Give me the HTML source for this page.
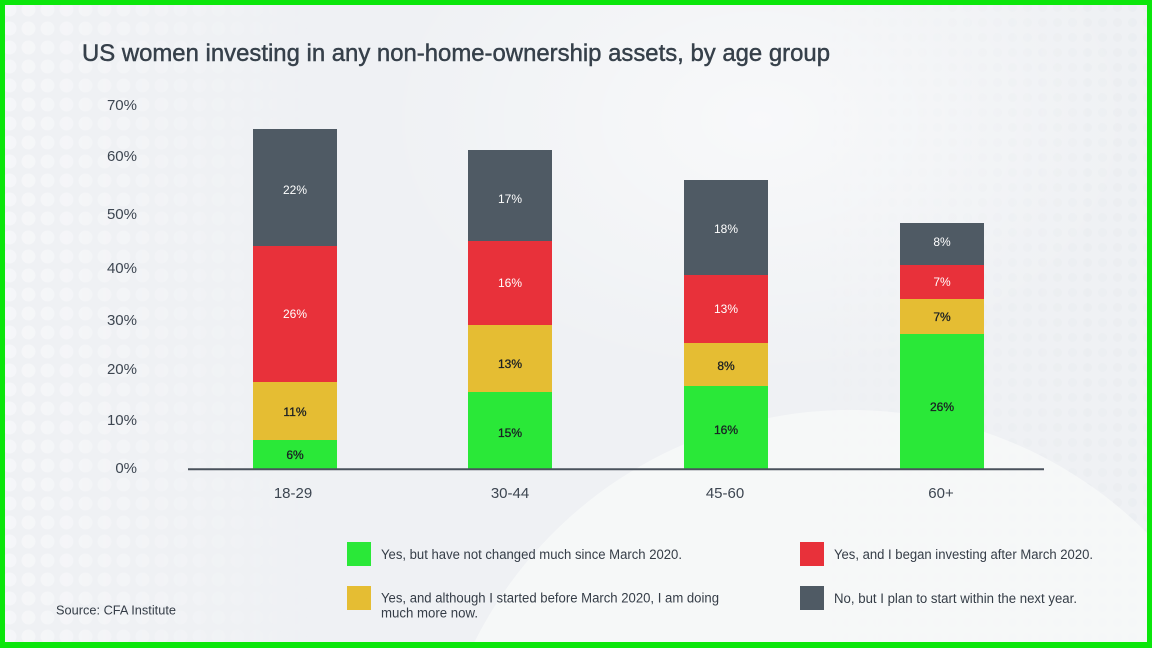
<!DOCTYPE html>
<html>
<head>
<meta charset="utf-8">
<style>
  html,body{margin:0;padding:0;background:#f1f3f5;width:1152px;height:648px;overflow:hidden;}
  svg{display:block;}
  text{font-family:"Liberation Sans",Arial,sans-serif;}
</style>
</head>
<body>
<svg width="1152" height="648" viewBox="0 0 1152 648" xmlns="http://www.w3.org/2000/svg">
  <defs>
    <pattern id="dotsL" x="0" y="0" width="19" height="19" patternUnits="userSpaceOnUse">
      <circle cx="9.5" cy="9.5" r="7" fill="#f6f7f9"/>
    </pattern>
    <pattern id="dotsR" x="0" y="0" width="15" height="15" patternUnits="userSpaceOnUse">
      <circle cx="7.5" cy="7.5" r="4.5" fill="#eaedf0"/>
    </pattern>
    <linearGradient id="fadeL" x1="0" y1="0" x2="1" y2="0">
      <stop offset="0" stop-color="#fff" stop-opacity="0.9"/>
      <stop offset="1" stop-color="#fff" stop-opacity="0"/>
    </linearGradient>
    <mask id="mL">
      <rect x="0" y="0" width="320" height="648" fill="url(#fadeL)"/>
    </mask>
    <linearGradient id="fadeR" x1="1" y1="0" x2="0" y2="0">
      <stop offset="0" stop-color="#fff" stop-opacity="0.8"/>
      <stop offset="1" stop-color="#fff" stop-opacity="0"/>
    </linearGradient>
    <mask id="mR">
      <rect x="820" y="0" width="332" height="648" fill="url(#fadeR)"/>
    </mask>
    <radialGradient id="glowTop" cx="0.5" cy="0.5" r="0.5">
      <stop offset="0" stop-color="#ffffff" stop-opacity="0.55"/>
      <stop offset="1" stop-color="#ffffff" stop-opacity="0"/>
    </radialGradient>
  </defs>

  <!-- background -->
  <rect x="0" y="0" width="1152" height="648" fill="#eff1f4"/>
  <rect x="0" y="0" width="320" height="648" fill="url(#dotsL)" mask="url(#mL)"/>
  <rect x="820" y="0" width="332" height="648" fill="url(#dotsR)" mask="url(#mR)"/>
  <ellipse cx="760" cy="120" rx="380" ry="260" fill="url(#glowTop)"/>
  <path d="M471.5,648 A420,420 0 0,1 1152,538 L1152,648 Z" fill="#f8f9fa" opacity="0.75"/>

  <!-- green border -->
  <rect x="2.5" y="2.5" width="1147" height="642" fill="none" stroke="#0be60b" stroke-width="5"/>
  <rect x="0" y="642" width="1152" height="6" fill="#0be60b"/>

  <!-- title -->
  <text x="82" y="61" font-size="24" fill="#36404a" stroke="#36404a" stroke-width="0.45" textLength="748" lengthAdjust="spacingAndGlyphs">US women investing in any non-home-ownership assets, by age group</text>

  <!-- y axis labels -->
  <g font-size="15" fill="#3d4651" text-anchor="end">
    <text x="137" y="110">70%</text>
    <text x="137" y="161">60%</text>
    <text x="137" y="219">50%</text>
    <text x="137" y="273">40%</text>
    <text x="137" y="325">30%</text>
    <text x="137" y="374">20%</text>
    <text x="137" y="425">10%</text>
    <text x="137" y="473">0%</text>
  </g>

  <!-- bars -->
  <g>
    <rect x="253" y="129" width="84" height="117" fill="#4f5a64"/>
    <rect x="253" y="246" width="84" height="136" fill="#e8313a"/>
    <rect x="253" y="382" width="84" height="58" fill="#e5bd33"/>
    <rect x="253" y="440" width="84" height="29" fill="#2ae838"/>
    <rect x="468" y="150" width="84" height="91" fill="#4f5a64"/>
    <rect x="468" y="241" width="84" height="84" fill="#e8313a"/>
    <rect x="468" y="325" width="84" height="67" fill="#e5bd33"/>
    <rect x="468" y="392" width="84" height="77" fill="#2ae838"/>
    <rect x="684" y="180" width="84" height="95" fill="#4f5a64"/>
    <rect x="684" y="275" width="84" height="68" fill="#e8313a"/>
    <rect x="684" y="343" width="84" height="43" fill="#e5bd33"/>
    <rect x="684" y="386" width="84" height="83" fill="#2ae838"/>
    <rect x="900" y="223" width="84" height="42" fill="#4f5a64"/>
    <rect x="900" y="265" width="84" height="34" fill="#e8313a"/>
    <rect x="900" y="299" width="84" height="35" fill="#e5bd33"/>
    <rect x="900" y="334" width="84" height="135" fill="#2ae838"/>
  </g>

  <!-- bar labels -->
  <g font-size="12" text-anchor="middle">
    <g fill="#ffffff">
      <text x="295" y="194">22%</text>
      <text x="295" y="318">26%</text>
      <text x="510" y="203">17%</text>
      <text x="510" y="287">16%</text>
      <text x="726" y="233">18%</text>
      <text x="726" y="313">13%</text>
      <text x="942" y="246">8%</text>
      <text x="942" y="286">7%</text>
    </g>
    <g fill="#1a1f24" stroke="#1a1f24" stroke-width="0.3">
      <text x="295" y="416">11%</text>
      <text x="295" y="459">6%</text>
      <text x="510" y="368">13%</text>
      <text x="510" y="437">15%</text>
      <text x="726" y="370">8%</text>
      <text x="726" y="434">16%</text>
      <text x="942" y="321">7%</text>
      <text x="942" y="411">26%</text>
    </g>
  </g>

  <!-- axis line -->
  <line x1="188" y1="469.3" x2="1044" y2="469.3" stroke="#4a525c" stroke-width="2"/>

  <!-- x labels -->
  <g font-size="15" fill="#3d4651" text-anchor="middle">
    <text x="293" y="498">18-29</text>
    <text x="510" y="498">30-44</text>
    <text x="725" y="498">45-60</text>
    <text x="941" y="498">60+</text>
  </g>

  <!-- legend -->
  <rect x="347" y="542" width="24" height="24" fill="#2ae838"/>
  <rect x="347" y="586" width="24" height="24" fill="#e5bd33"/>
  <rect x="800" y="542" width="24" height="24" fill="#e8313a"/>
  <rect x="800" y="586" width="24" height="24" fill="#4f5a64"/>
  <g font-size="13.5" fill="#353d47">
    <text x="381" y="559" textLength="301" lengthAdjust="spacingAndGlyphs">Yes, but have not changed much since March 2020.</text>
    <text x="381" y="602.5" textLength="338" lengthAdjust="spacingAndGlyphs">Yes, and although I started before March 2020, I am doing</text>
    <text x="381" y="617.5" textLength="97" lengthAdjust="spacingAndGlyphs">much more now.</text>
    <text x="834" y="559" textLength="259" lengthAdjust="spacingAndGlyphs">Yes, and I began investing after March 2020.</text>
    <text x="834" y="603" textLength="243" lengthAdjust="spacingAndGlyphs">No, but I plan to start within the next year.</text>
  </g>

  <!-- source -->
  <text x="56" y="614.5" font-size="13" fill="#353d47" textLength="120" lengthAdjust="spacingAndGlyphs">Source: CFA Institute</text>
</svg>
</body>
</html>
